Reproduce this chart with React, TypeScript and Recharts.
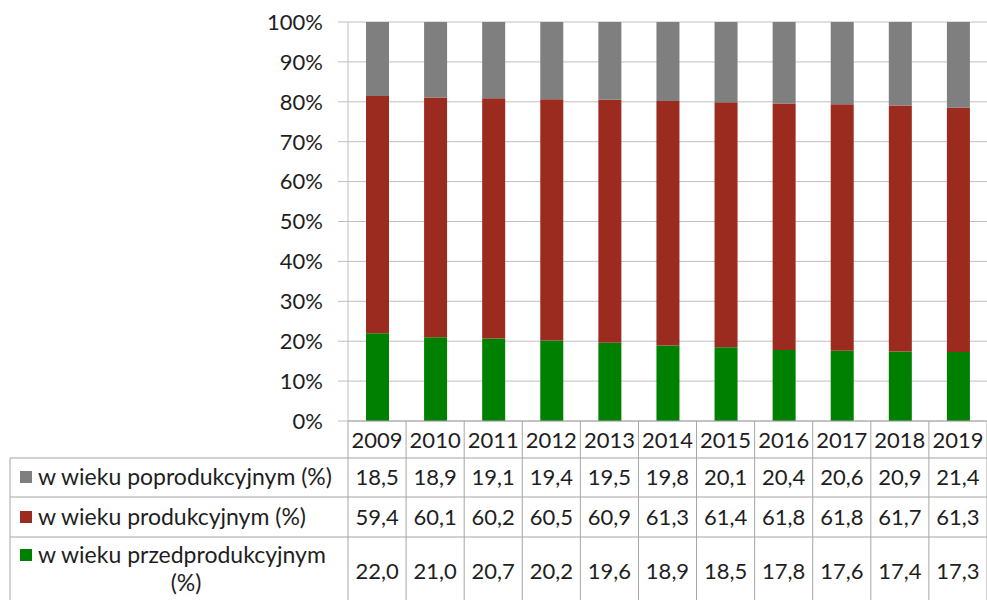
import { Bar, BarChart, CartesianGrid, XAxis, YAxis } from "recharts";

const years = ["2009", "2010", "2011", "2012", "2013", "2014", "2015", "2016", "2017", "2018", "2019"];
const postProductive = [18.5, 18.9, 19.1, 19.4, 19.5, 19.8, 20.1, 20.4, 20.6, 20.9, 21.4];
const productive = [59.4, 60.1, 60.2, 60.5, 60.9, 61.3, 61.4, 61.8, 61.8, 61.7, 61.3];
const preProductive = [22.0, 21.0, 20.7, 20.2, 19.6, 18.9, 18.5, 17.8, 17.6, 17.4, 17.3];
const yTicks = [0, 0.1, 0.2, 0.3, 0.4, 0.5, 0.6, 0.7, 0.8, 0.9, 1];

const labelPost = "w wieku poprodukcyjnym (%)";
const labelProd = "w wieku produkcyjnym (%)";
const labelPre = "w wieku przedprodukcyjnym";

const data = years.map((year, i) => ({
  year,
  pre: preProductive[i],
  prod: productive[i],
  post: postProductive[i],
}));

const W = 987;
const H = 600;
const AXIS_W = 348;
const TOP = 22;
const XAXIS_H = 179;
const BAND = (W - AXIS_W) / years.length;
const PLOT_BOTTOM = H - XAXIS_H;
const ROWS = [458, 497, 537];
const GRID = "#bfbfbf";
const LINE = "#a6a6a6";
const TEXT = "#1e1e1e";
const NUM_FONT = 22;
const LABEL_FONT = 23;

const GRAY = "#7f7f7f";
const RED = "#9b2b1f";
const GREEN = "#008000";

const fmt = (v: number) => v.toFixed(1).replace(".", ",");

function TableTick(props: any) {
  const { x, payload } = props;
  const i = years.indexOf(payload.value);
  const left = x - BAND / 2;
  const right = x + BAND / 2;
  const txt = { fill: TEXT, fontSize: NUM_FONT, textAnchor: "middle" as const };
  const lbl = { fill: TEXT, fontSize: LABEL_FONT };
  return (
    <g>
      <line x1={right} y1={PLOT_BOTTOM} x2={right} y2={H} stroke={LINE} />
      {ROWS.map((r) => (
        <line key={r} x1={left} y1={r} x2={right} y2={r} stroke={LINE} />
      ))}
      <text x={x} y={440} dy="0.35em" {...txt}>{payload.value}</text>
      <text x={x} y={477} dy="0.35em" {...txt}>{fmt(postProductive[i])}</text>
      <text x={x} y={517} dy="0.35em" {...txt}>{fmt(productive[i])}</text>
      <text x={x} y={571} dy="0.35em" {...txt}>{fmt(preProductive[i])}</text>
      {i === 0 && (
        <g>
          <line x1={left} y1={PLOT_BOTTOM} x2={left} y2={H} stroke={LINE} />
          <line x1={10} y1={ROWS[0]} x2={10} y2={H} stroke={LINE} />
          {ROWS.map((r) => (
            <line key={r} x1={10} y1={r} x2={left} y2={r} stroke={LINE} />
          ))}
          <rect x={20} y={471} width={12} height={12} fill={GRAY} />
          <text x={38} y={477} dy="0.35em" {...lbl}>{labelPost}</text>
          <rect x={20} y={511} width={12} height={12} fill={RED} />
          <text x={38} y={517} dy="0.35em" {...lbl}>{labelProd}</text>
          <rect x={20} y={549} width={12} height={12} fill={GREEN} />
          <text x={38} y={555} dy="0.35em" {...lbl}>{labelPre}</text>
          <text x={186} y={583} dy="0.35em" {...lbl} textAnchor="middle">(%)</text>
        </g>
      )}
    </g>
  );
}

export default function App() {
  return (
    <div style={{ position: "absolute", left: 0, top: 0, background: "#fff" }}>
      <BarChart
        width={W}
        height={H}
        data={data}
        stackOffset="expand"
        barSize={23}
        margin={{ top: TOP, right: 0, bottom: 0, left: 0 }}
        style={{ fontFamily: "Lato" }}
      >
        <CartesianGrid vertical={false} stroke={GRID} />
        <YAxis
          width={AXIS_W}
          domain={[0, 1]}
          ticks={yTicks}
          tickFormatter={(v: number) => `${Math.round(v * 100)}%`}
          tick={{ fill: TEXT, fontSize: NUM_FONT }}
          tickSize={10}
          tickMargin={15}
          tickLine={{ stroke: GRID }}
          axisLine={{ stroke: GRID }}
        />
        <XAxis
          dataKey="year"
          height={XAXIS_H}
          interval={0}
          tick={<TableTick />}
          tickLine={false}
          axisLine={{ stroke: LINE }}
        />
        <Bar dataKey="pre" stackId="a" fill={GREEN} isAnimationActive={false} />
        <Bar dataKey="prod" stackId="a" fill={RED} isAnimationActive={false} />
        <Bar dataKey="post" stackId="a" fill={GRAY} isAnimationActive={false} />
      </BarChart>
    </div>
  );
}
